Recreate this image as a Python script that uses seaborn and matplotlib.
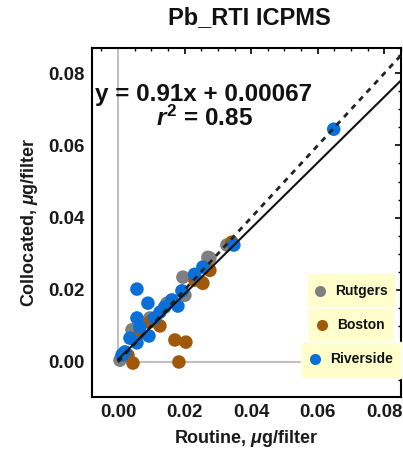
import matplotlib
matplotlib.use("Agg")
import matplotlib.pyplot as plt
from matplotlib.patches import Rectangle
from matplotlib.ticker import MultipleLocator
import seaborn as sns
import pandas as pd

# ---- data ----
sites = ["Rutgers", "Boston", "Riverside"]
colors = ["#7f7f7f", "#a0580a", "#0a6fd6"]

rutgers_x = [0.0195, 0.0276, 0.0252, 0.0327, 0.0201, 0.0270, 0.0042, 0.0072, 0.0096, 0.0147, 0.0006]
rutgers_y = [0.0235, 0.0288, 0.0221, 0.0324, 0.0185, 0.0290, 0.0089, 0.0108, 0.0122, 0.0163, 0.0005]

boston_x = [0.0342, 0.0276, 0.0231, 0.0171, 0.0204, 0.0183, 0.0045, 0.0030, 0.0126, 0.0096, 0.0066, 0.0015, 0.0255]
boston_y = [0.0332, 0.0254, 0.0227, 0.0061, 0.0055, 0.0000, -0.0003, 0.0019, 0.0100, 0.0111, 0.0080, 0.0022, 0.0218]

riverside_x = [0.0648, 0.0348, 0.0255, 0.0230, 0.0192, 0.0162, 0.0180, 0.0140, 0.0126, 0.0110,
               0.0057, 0.0090, 0.0057, 0.0066, 0.0093, 0.0036, 0.0057, 0.0021, 0.0012]
riverside_y = [0.0645, 0.0324, 0.0263, 0.0243, 0.0197, 0.0172, 0.0155, 0.0152, 0.0138, 0.0122,
               0.0202, 0.0163, 0.0122, 0.0097, 0.0072, 0.0066, 0.0053, 0.0028, 0.0019]

slope, intercept = 0.91, 0.00067
r2 = 0.85

title = "Pb_RTI ICPMS"
xlabel = "Routine, $\\mathit{\\mu}$g/filter"
ylabel = "Collocated, $\\mathit{\\mu}$g/filter"
xlim = (-0.0078, 0.085)
ylim = (-0.0097, 0.087)
major_ticks = [0.00, 0.02, 0.04, 0.06, 0.08]

df = pd.concat([
    pd.DataFrame({"Routine": rutgers_x, "Collocated": rutgers_y, "Site": "Rutgers"}),
    pd.DataFrame({"Routine": boston_x, "Collocated": boston_y, "Site": "Boston"}),
    pd.DataFrame({"Routine": riverside_x, "Collocated": riverside_y, "Site": "Riverside"}),
], ignore_index=True)

sns.set_style("white")
plt.rcParams["font.family"] = ["Liberation Sans", "DejaVu Sans"]
plt.rcParams["mathtext.fontset"] = "custom"
plt.rcParams["mathtext.it"] = "Liberation Sans:italic:bold"
plt.rcParams["mathtext.rm"] = "Liberation Sans:bold"

fig = plt.figure(figsize=(4.03, 4.5), dpi=100)
ax = fig.add_axes([92 / 403, 1 - 397 / 450, (401 - 92) / 403, (397 - 48) / 450])

# reference axes lines through origin
ax.plot([0, 0], [0, ylim[1]], color="#c0c0c0", lw=1.5, zorder=1)
ax.plot([0, xlim[1]], [0, 0], color="#c0c0c0", lw=1.5, zorder=1)

sns.scatterplot(data=df, x="Routine", y="Collocated", hue="Site", hue_order=sites,
                palette=colors, s=95, edgecolor="none", linewidth=0, legend=False,
                ax=ax, zorder=3)

# 1:1 line and regression line
xs = [0, xlim[1]]
ax.plot(xs, xs, color="#222222", lw=2, linestyle=(0, (2, 2)), zorder=4)
ax.plot(xs, [slope * v + intercept for v in xs], color="#111111", lw=1.5, zorder=4)

ax.set_xlim(*xlim)
ax.set_ylim(*ylim)
ax.set_xticks(major_ticks)
ax.set_yticks(major_ticks)
ax.set_xticklabels([f"{t:.2f}" for t in major_ticks])
ax.set_yticklabels([f"{t:.2f}" for t in major_ticks])
ax.xaxis.set_minor_locator(MultipleLocator(0.005))
ax.yaxis.set_minor_locator(MultipleLocator(0.005))
ax.tick_params(which="both", direction="in", top=True, right=True, colors="black")
ax.tick_params(which="major", length=4, width=1.2, labelsize=13.5, pad=5)
ax.tick_params(which="minor", length=2.5, width=1)
for lab in ax.get_xticklabels() + ax.get_yticklabels():
    lab.set_fontweight("bold")
    lab.set_color("#1a1a1a")
for sp in ax.spines.values():
    sp.set_color("black")
    sp.set_linewidth(1.5)

ax.set_xlabel(xlabel, fontsize=13, fontweight="bold", color="#1a1a1a", labelpad=5)
ax.set_ylabel(ylabel, fontsize=13, fontweight="bold", color="#1a1a1a", labelpad=6)
fig.text(249 / 403, 1 - 18 / 450, title, ha="center", va="center", fontsize=17,
         fontweight="bold", color="#111111")

# equation text
fig.text(204 / 403, 1 - 94 / 450, f"y = {slope}x + {intercept}", ha="center", va="center",
         fontsize=17.5, fontweight="bold", color="#111111")
fig.text(204 / 403, 1 - 118 / 450, f"$r^2$ = {r2}", ha="center", va="center",
         fontsize=17.5, fontweight="bold", color="#111111")

# legend boxes (three separate yellow boxes)
boxes = [(307, 273, 395, 307), (308, 308, 393, 341), (301, 342, 402, 378)]
marker_pos = [(320, 291), (322, 325), (315, 359)]
text_x = [335, 337, 330]
for site, col, (x0, y0, x1, y1), (mx, my), tx in zip(sites, colors, boxes, marker_pos, text_x):
    fig.patches.append(Rectangle((x0 / 403, 1 - y1 / 450), (x1 - x0) / 403, (y1 - y0) / 450,
                                 transform=fig.transFigure, facecolor="#ffffcc",
                                 edgecolor="#fdfdf0", lw=1, zorder=5))
    fig.lines.append(plt.Line2D([mx / 403], [1 - my / 450], marker="o", markersize=8,
                                color=col, markeredgewidth=0, transform=fig.transFigure,
                                zorder=6))
    fig.text(tx / 403, 1 - my / 450, site, ha="left", va="center", fontsize=10,
             fontweight="bold", color="#111111", zorder=7)

fig.savefig("out.png", dpi=100)
